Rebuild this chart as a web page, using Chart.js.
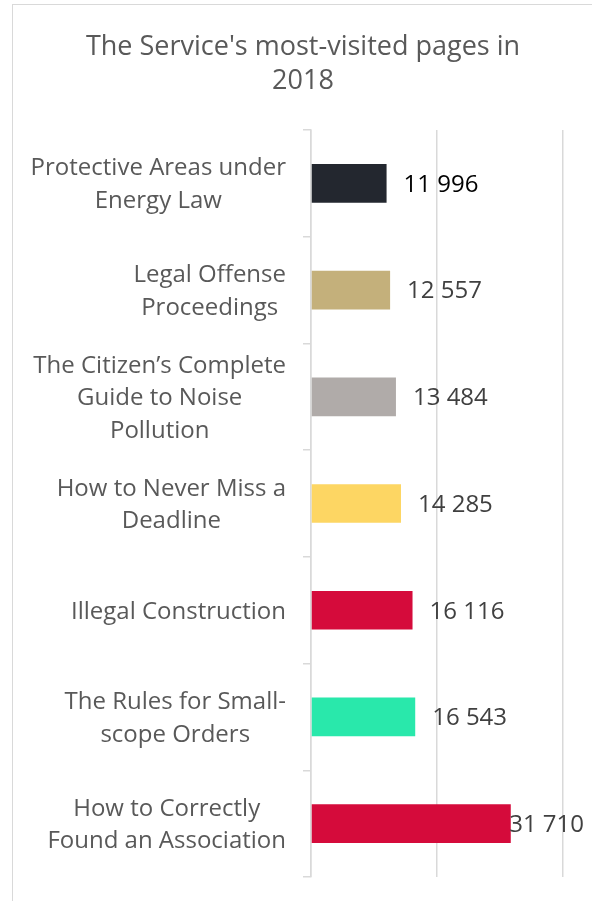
<!DOCTYPE html>
<html>
<head>
<meta charset="utf-8">
<script src="https://cdn.jsdelivr.net/npm/chart.js@4"></script>
<style>
  html, body { margin: 0; padding: 0; background: #fff; overflow: hidden; }
  #box {
    position: absolute; left: 12px; top: 4px;
    width: 580px; height: 900px;
    border: 1px solid #d9d9d9;
  }
  #wrap { position: relative; width: 580px; height: 896px; }
</style>
</head>
<body>
<div id="box"><div id="wrap"><canvas id="pages"></canvas></div></div>
<script>
const titleLines = ["The Service's most-visited pages in", "2018"];
const pages = [
  ['Protective Areas under', 'Energy Law'],
  ['Legal Offense', 'Proceedings'],
  ['The Citizen\u2019s Complete', 'Guide to Noise', 'Pollution'],
  ['How to Never Miss a', 'Deadline'],
  ['Illegal Construction'],
  ['The Rules for Small-', 'scope Orders'],
  ['How to Correctly', 'Found an Association']
];
const visits = [11996, 12557, 13484, 14285, 16116, 16543, 31710];
const visitLabels = ['11 996', '12 557', '13 484', '14 285', '16 116', '16 543', '31 710'];
const xTicks = [0, 20000, 40000];

const barColors = ['#23272f', '#c4b07b', '#b0aba9', '#fdd663', '#d50b3b', '#29e8ab', '#d50b3b'];
const valueColors = ['#000000', '#404040', '#404040', '#404040', '#404040', '#404040', '#404040'];
const FONT = "'Open Sans', sans-serif";
const GRID = '#d9d9d9';

// category labels: block right-aligned, lines centred inside the block
const pageLabels = {
  id: 'pageLabels',
  afterDraw(chart) {
    const ctx = chart.ctx;
    const y = chart.scales.y;
    const right = y.right - 8 - 17;
    ctx.save();
    ctx.font = '24px ' + FONT;
    ctx.fillStyle = '#595959';
    ctx.textAlign = 'center';
    ctx.textBaseline = 'middle';
    pages.forEach((lines, i) => {
      const py = y.getPixelForTick(i) + 1.5;
      const w = Math.max(...lines.map(l => ctx.measureText(l).width));
      const cx = right - w / 2;
      lines.forEach((l, j) => {
        ctx.fillText(l, cx, py + (j - (lines.length - 1) / 2) * 32.5);
      });
    });
    ctx.restore();
  }
};

const valueLabels = {
  id: 'valueLabels',
  afterDatasetsDraw(chart) {
    const ctx = chart.ctx;
    const meta = chart.getDatasetMeta(0);
    ctx.save();
    ctx.font = '24px ' + FONT;
    ctx.textAlign = 'left';
    ctx.textBaseline = 'middle';
    meta.data.forEach((bar, i) => {
      const txt = visitLabels[i];
      const w = ctx.measureText(txt).width;
      const x = Math.min(bar.x + 17, chart.width - 9 - w);
      ctx.fillStyle = valueColors[i];
      ctx.fillText(txt, x, bar.y + 1.5);
    });
    ctx.restore();
  }
};

new Chart(document.getElementById('pages'), {
  type: 'bar',
  data: {
    labels: pages,
    datasets: [{
      data: visits,
      backgroundColor: barColors,
      borderWidth: 0,
      barPercentage: 0.362,
      categoryPercentage: 1
    }]
  },
  options: {
    indexAxis: 'y',
    responsive: true,
    maintainAspectRatio: false,
    animation: false,
    layout: { padding: { left: 30, right: 30, top: 0, bottom: 24 } },
    plugins: {
      legend: { display: false },
      tooltip: { enabled: false },
      title: {
        display: true,
        text: titleLines,
        color: '#595959',
        font: { family: FONT, size: 27, weight: 'normal', lineHeight: 1.26 },
        padding: { top: 25, bottom: 32 }
      }
    },
    scales: {
      x: {
        min: 0,
        max: 40000,
        afterBuildTicks(scale) { scale.ticks = xTicks.map(v => ({ value: v })); },
        ticks: { display: false },
        grid: { color: GRID, lineWidth: 1.5, drawTicks: false },
        border: { display: false }
      },
      y: {
        ticks: { display: false },
        afterFit(scale) { scale.width = 268; },
        grid: { color: GRID, lineWidth: 1.5, drawOnChartArea: false, drawTicks: true, tickLength: 8, offset: true },
        border: { display: true, color: GRID, width: 1.5 }
      }
    }
  },
  plugins: [pageLabels, valueLabels]
});
</script>
</body>
</html>
